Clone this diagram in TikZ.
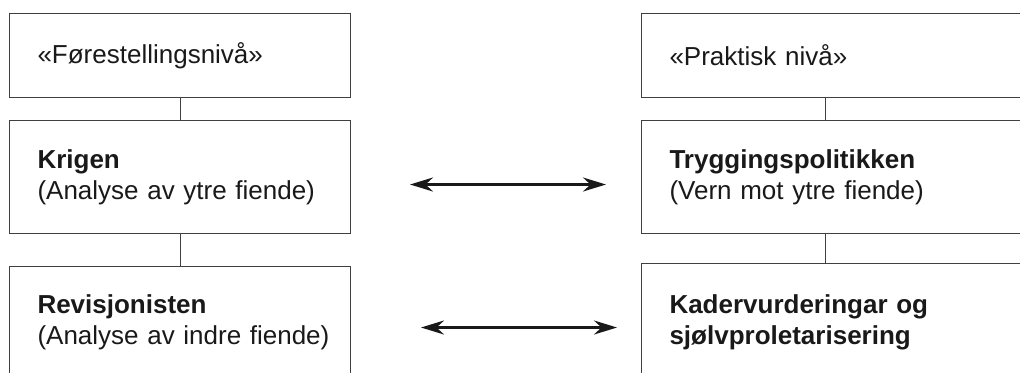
\documentclass[tikz,border=0pt]{standalone}
\usepackage{fontspec}
\setmainfont{Liberation Sans}
\usetikzlibrary{arrows.meta}
\begin{document}
\begin{tikzpicture}[
    x=0.5pt, y=-0.5pt,
    box/.style={rectangle, draw=black!75, line width=0.5pt, anchor=north west, inner xsep=14pt, inner ysep=0pt, align=left, text=black!90, font=\fontsize{13pt}{15.5pt}\selectfont},
    leftbox/.style={box, text width=142.5pt},
    rightbox/.style={box, text width=166.5pt},
    link/.style={draw=black!75, line width=0.5pt},
    twoway/.style={black!90, line width=1.3pt, {Stealth[length=11.5pt, width=7pt]}-{Stealth[length=11.5pt, width=7pt]}}
]
    \useasboundingbox (0,0) rectangle (1020,372);
    \clip (0,0) rectangle (1020,372);

    % Left column
    \node[leftbox, minimum height=42pt] (ltop) at (9,13) {«Førestellingsnivå»};
    \node[leftbox, minimum height=56.5pt] (lmid) at (9,120) {\textbf{Krigen}\\\mbox{(Analyse av ytre fiende)}};
    \node[leftbox, minimum height=56pt] (lbot) at (9,266) {\textbf{Revisjonisten}\\\mbox{(Analyse av indre fiende)}};

    % Right column
    \node[rightbox, minimum height=42pt] (rtop) at (641,13) {«Praktisk nivå»};
    \node[rightbox, minimum height=56.5pt] (rmid) at (641,120) {\textbf{Tryggingspolitikken}\\(Vern mot ytre fiende)};
    \node[rightbox, minimum height=59pt] (rbot) at (641,263) {\textbf{Kadervurderingar og}\\\textbf{sjølvproletarisering}};

    % Links
    \draw[link] ([xshift=85.5pt]ltop.south west) -- ([xshift=85.5pt]lmid.north west);
    \draw[link] ([xshift=85.5pt]lmid.south west) -- ([xshift=85.5pt]lbot.north west);
    \draw[link] ([xshift=92pt]rtop.south west) -- ([xshift=92pt]rmid.north west);
    \draw[link] ([xshift=92pt]rmid.south west) -- ([xshift=92pt]rbot.north west);

    % Arrows between levels
    \draw[twoway] ([xshift=29.5pt, yshift=-3.75pt]lmid.east) -- ([xshift=-17.5pt, yshift=-3.75pt]rmid.west);
    \draw[twoway] ([xshift=35pt, yshift=-2.5pt]lbot.east) -- ([xshift=-12pt, yshift=-2.5pt]rbot.west);
\end{tikzpicture}
\end{document}
